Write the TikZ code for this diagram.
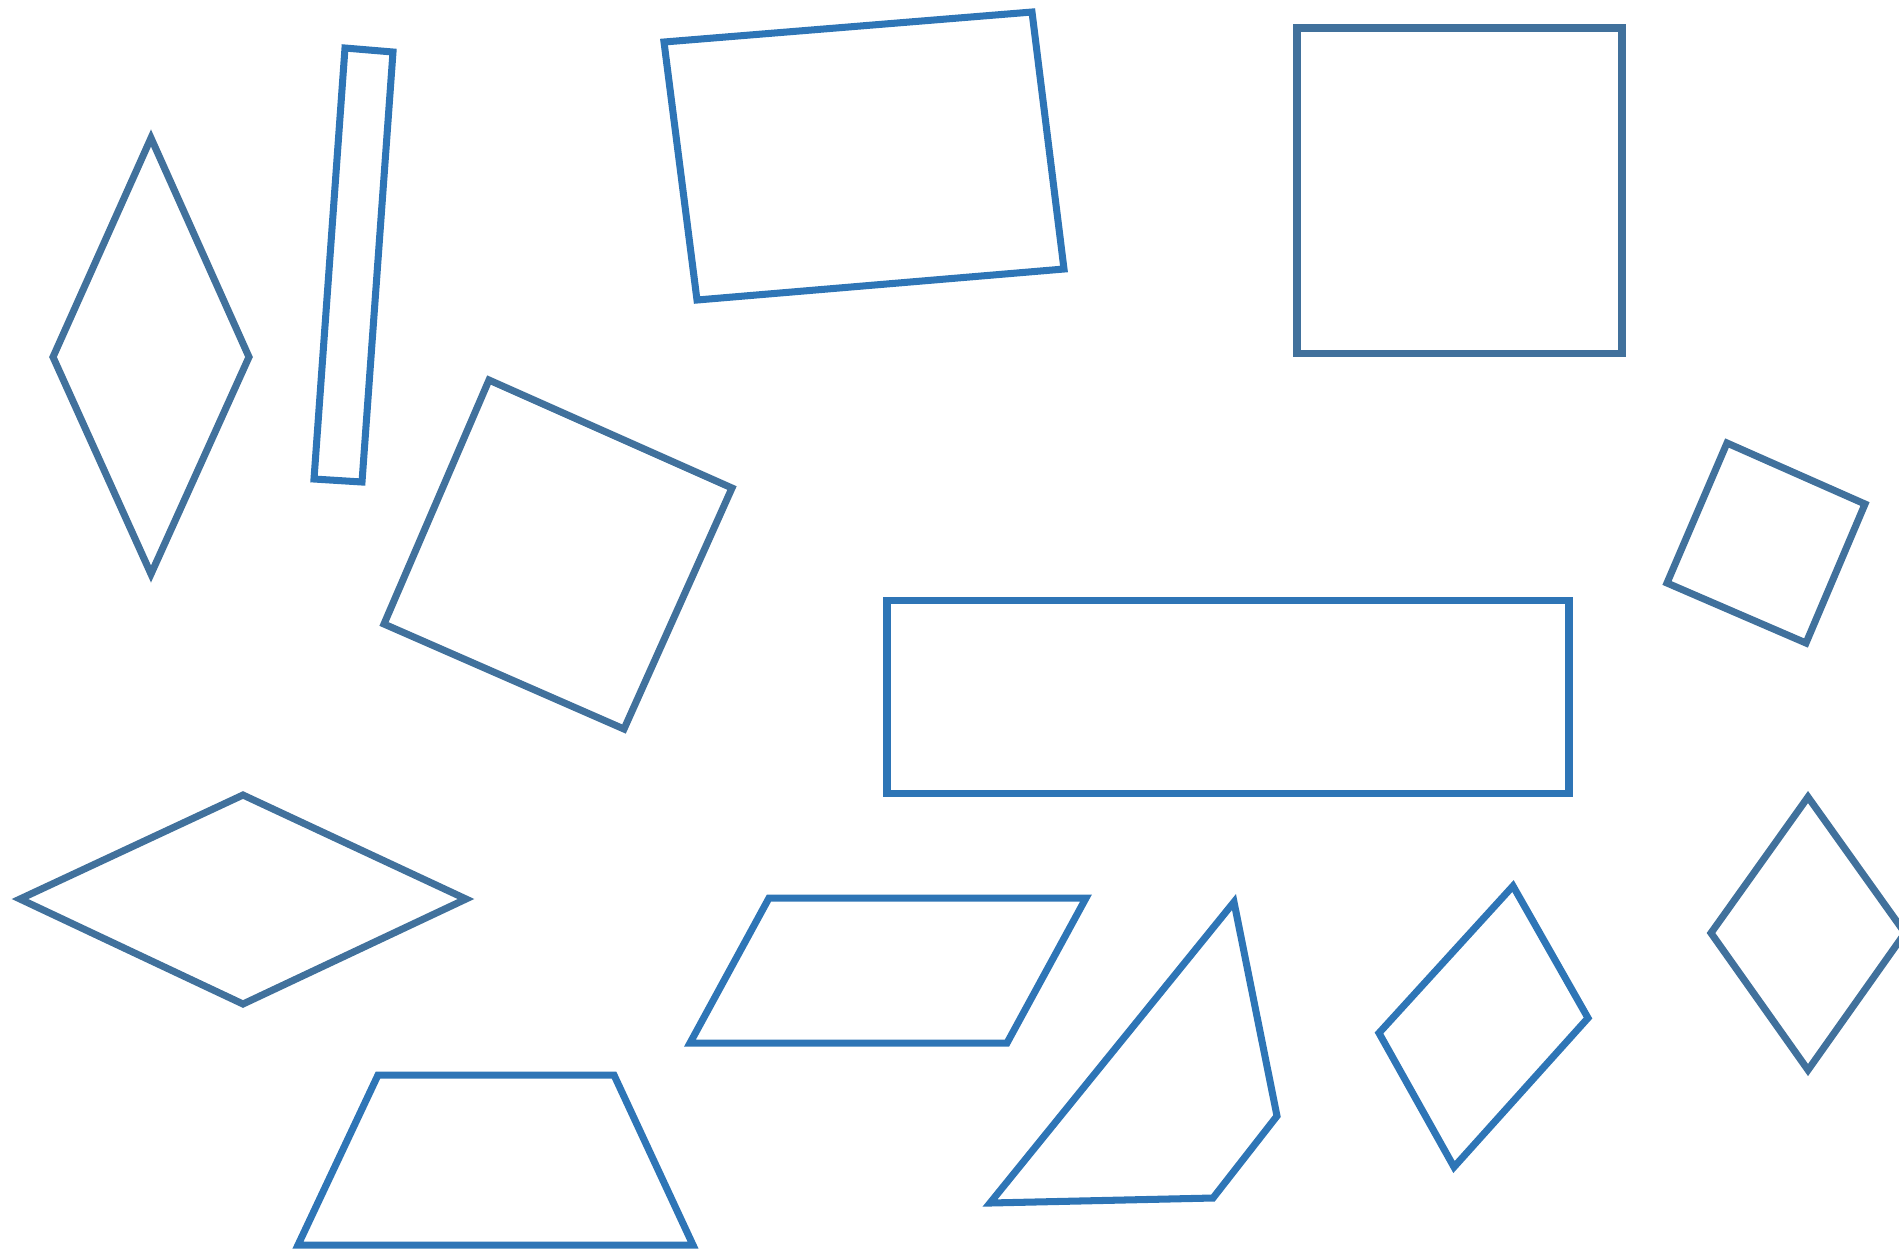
\documentclass[tikz,border=0pt]{standalone}
\usepackage{tikz}
\usepackage{xcolor}
\definecolor{SteelBlue}  {HTML}{41719C}
\definecolor{BrightBlue} {HTML}{2E75B6}
\tikzset{
  steelq/.style={draw=SteelBlue,line width=2pt,miter limit=10},
  brightq/.style={draw=BrightBlue,line width=2pt,miter limit=10},
}

\begin{document}
\begin{tikzpicture}[x=0.01cm,y=-0.01cm]

  \useasboundingbox (0,0) rectangle (1899,1250);

  % top row
  \draw[steelq]  (151,138) -- (249,357) -- (151,574) -- (53,357) -- cycle;
  \draw[brightq] (345,48) -- (393,52) -- (362,482) -- (314,479) -- cycle;
  \draw[brightq] (664,42) -- (1032,12) -- (1064,269) -- (697,300) -- cycle;
  \draw[steelq]  (1297,28) rectangle (1622,353);

  % middle row
  \draw[steelq]  (489,380) -- (732,488) -- (624,729) -- (384,624) -- cycle;
  \draw[brightq] (887,600) rectangle (1569,793);
  \draw[steelq]  (1727,443) -- (1865,504) -- (1806,643) -- (1667,583) -- cycle;

  % bottom row
  \draw[steelq]  (20,899) -- (243,795) -- (466,899) -- (243,1004) -- cycle;
  \draw[brightq] (378,1075) -- (614,1075) -- (693,1245) -- (298,1245) -- cycle;
  \draw[brightq] (769,898) -- (1086,898) -- (1007,1043) -- (690,1043) -- cycle;
  \draw[brightq] (1234,902) -- (1277,1116) -- (1213,1198) -- (990,1203) -- cycle;
  \draw[brightq] (1513,886) -- (1588,1018) -- (1454,1167) -- (1379,1033) -- cycle;
  \draw[steelq]  (1808,797) -- (1905,933) -- (1808,1070) -- (1711,933) -- cycle;

\end{tikzpicture}
\end{document}
